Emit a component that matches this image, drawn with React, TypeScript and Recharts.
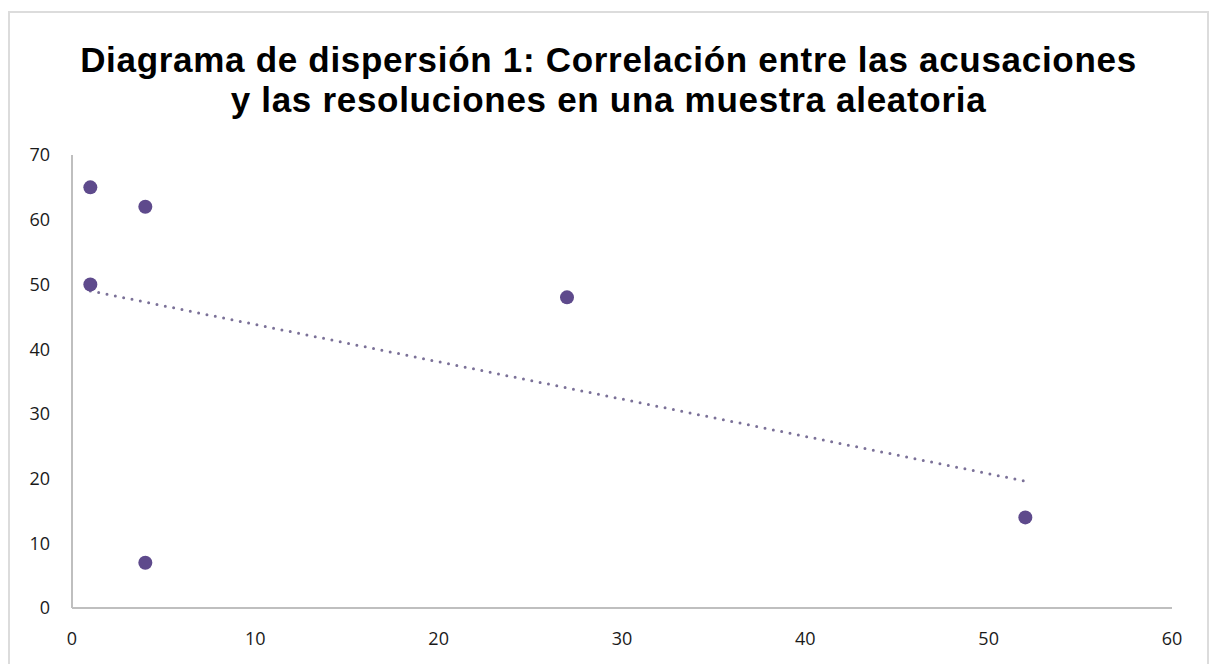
import React from 'react';
import { ScatterChart, Scatter, XAxis, YAxis } from 'recharts';

const titleLines = [
  'Diagrama de dispersión 1: Correlación entre las acusaciones',
  'y las resoluciones en una muestra aleatoria',
];
const acusaciones = [1, 4, 1, 27, 52, 4];
const resoluciones = [65, 62, 50, 48, 14, 7];
const trendX = [1, 52];
const trendY = [49, 19.6];
const xTicks = [0, 10, 20, 30, 40, 50, 60];
const yTicks = [0, 10, 20, 30, 40, 50, 60, 70];

const points = acusaciones.map((x, i) => ({ x, y: resoluciones[i] }));
const trend = trendX.map((x, i) => ({ x, y: trendY[i] }));

const tickStyle = { fill: '#1a1a1a', fontSize: 18, fontFamily: '"Open Sans", sans-serif' };

const Dot = (props: any) => <circle cx={props.cx} cy={props.cy} r={7} fill="#5e4a8c" />;
const NoDot = () => null;

export default function App() {
  return (
    <div
      style={{
        position: 'absolute',
        left: 8,
        top: 11,
        width: 1201,
        height: 680,
        border: '2px solid #dcdcdc',
        background: '#fff',
        boxSizing: 'border-box',
      }}
    >
      <div
        style={{
          position: 'absolute',
          left: 0,
          top: 27,
          width: 1197,
          textAlign: 'center',
          fontFamily: '"Liberation Sans", Arial, sans-serif',
          fontWeight: 'bold',
          fontSize: 35,
          letterSpacing: '0.7px',
          lineHeight: '40px',
          color: '#000',
        }}
      >
        {titleLines.map((t) => (
          <div key={t}>{t}</div>
        ))}
      </div>
      <div style={{ position: 'absolute', left: 0, top: 0 }}>
        <ScatterChart width={1197} height={640} margin={{ top: 142, right: 35, left: 0, bottom: 0 }}>
          <XAxis
            type="number"
            dataKey="x"
            domain={[0, 60]}
            ticks={xTicks}
            tickLine={false}
            tickSize={0}
            tickMargin={24}
            height={45}
            axisLine={{ stroke: '#bfbfbf', strokeWidth: 2 }}
            tick={tickStyle}
          />
          <YAxis
            type="number"
            dataKey="y"
            domain={[0, 70]}
            ticks={yTicks}
            tickLine={false}
            tickSize={0}
            tickMargin={22}
            width={62}
            axisLine={{ stroke: '#bfbfbf', strokeWidth: 2 }}
            tick={tickStyle}
          />
          <Scatter
            data={trend}
            line={{ stroke: '#7b7198', strokeWidth: 3, strokeDasharray: '0 8.5', strokeLinecap: 'round' }}
            shape={NoDot}
            isAnimationActive={false}
          />
          <Scatter data={points} shape={Dot} isAnimationActive={false} />
        </ScatterChart>
      </div>
    </div>
  );
}
